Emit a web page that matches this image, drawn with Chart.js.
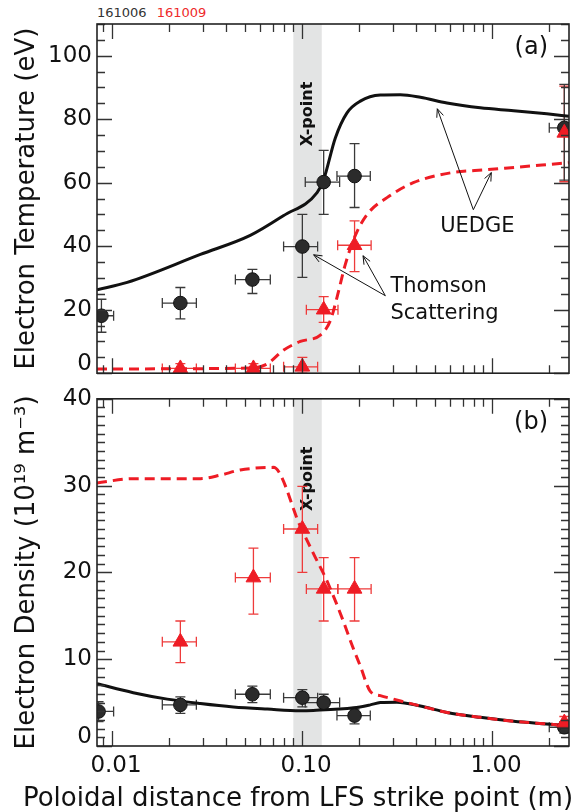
<!DOCTYPE html>
<html>
<head>
<meta charset="utf-8">
<script src="https://cdn.jsdelivr.net/npm/chart.js@4.4.1/dist/chart.umd.min.js"></script>
<style>
  body { margin: 0; background: #fff; }
  #wrap { position: relative; width: 586px; height: 812px; }
  .pane { position: absolute; left: 0; }
  #header { position: absolute; left: 97px; top: 5px; font: 13px "DejaVu Sans", sans-serif; white-space: pre; }
</style>
</head>
<body>
<div id="wrap">
  <div id="header"><span style="color:#333">161006</span><span style="color:#ee2a2a;margin-left:10px">161009</span></div>
  <div class="pane" style="top:0"><canvas id="chartA" width="586" height="392"></canvas></div>
  <div class="pane" style="top:380px"><canvas id="chartB" width="586" height="432"></canvas></div>
</div>
<script>
// x axis (log), shared by both panels
const xMin = 0.00834, xMax = 2.54;
const xMajor = [0.01, 0.1, 1];
const xMajorLabels = ['0.01', '0.10', '1.00'];
const xPointBand = [0.09, 0.127];

const teTicks = [0, 20, 40, 60, 80, 100];
const neTicks = [0, 10, 20, 30, 40];

// (a) UEDGE electron temperature, 161006 (solid) and 161009 (dashed)
const teUedge06X = [0.00834, 0.01203, 0.0292, 0.0534, 0.0797, 0.12, 0.13, 0.1497, 0.1725, 0.2027, 0.2583, 0.329, 0.4196, 0.579, 0.867, 1.299, 1.94, 2.54];
const teUedge06Y = [26.3, 28.6, 37.4, 43.4, 49.6, 56.9, 61.0, 74.1, 82.0, 85.7, 87.6, 87.7, 86.9, 85.1, 83.6, 82.7, 81.7, 80.9];
const teUedge09X = [0.00834, 0.0534, 0.0655, 0.0797, 0.098, 0.1248, 0.141, 0.1528, 0.169, 0.1908, 0.2199, 0.28, 0.385, 0.603, 0.941, 2.54];
const teUedge09Y = [1.35, 1.6, 2.9, 7.2, 10.0, 12.0, 16.6, 23.9, 34.3, 43.4, 50.0, 55.3, 60.0, 63.1, 64.1, 66.3];

// (a) Thomson scattering Te
const tsX06 = [0.0088, 0.0229, 0.0548, 0.1004, 0.13, 0.189, 2.4];
const tsXLo06 = [0.0072, 0.0184, 0.0446, 0.080, 0.104, 0.1527, 2.0];
const tsXHi06 = [0.0102, 0.0278, 0.0681, 0.1208, 0.1577, 0.2287, 2.9];
const tsTe06 = [18.1, 22.1, 29.5, 39.9, 60.2, 62.1, 77.3];
const tsTeLo06 = [12.9, 17.1, 25.1, 30.2, 50.0, 52.2, 60.8];
const tsTeHi06 = [23.3, 27.0, 32.7, 50.0, 70.2, 72.3, 91.0];

const tsX09 = [0.0229, 0.0555, 0.1004, 0.13, 0.189, 2.4];
const tsXLo09 = [0.0184, 0.0446, 0.080, 0.1054, 0.154, 2.4];
const tsXHi09 = [0.0278, 0.0681, 0.1208, 0.1546, 0.231, 2.4];
const tsTe09 = [1.5, 1.5, 2.0, 20.0, 40.3, 75.7];
const tsTeLo09 = [0.5, 0.5, 0.0, 16.0, 32.0, 60.3];
const tsTeHi09 = [3.0, 3.0, 5.0, 24.1, 48.0, 90.4];

// (b) UEDGE electron density
const neUedge06X = [0.00834, 0.01294, 0.01954, 0.0292, 0.0435, 0.0657, 0.098, 0.1147, 0.187, 0.2287, 0.2583, 0.316, 0.4196, 0.579, 0.867, 1.299, 2.11, 2.54];
const neUedge06Y = [7.17, 6.14, 5.4, 4.9, 4.5, 4.25, 4.06, 4.1, 4.4, 4.74, 5.0, 5.05, 4.6, 3.87, 3.3, 2.85, 2.47, 2.3];
const neUedge09X = [0.00834, 0.01294, 0.0292, 0.0371, 0.0473, 0.0706, 0.098, 0.1147, 0.136, 0.1655, 0.1834, 0.2027, 0.2287, 0.2583, 0.3034, 0.4196, 0.579, 0.867, 1.299, 2.11, 2.54];
const neUedge09Y = [30.3, 30.8, 30.8, 31.2, 31.8, 32.1, 25.3, 22.2, 18.9, 14.3, 11.6, 9.2, 6.3, 5.8, 5.4, 4.6, 3.87, 3.3, 2.85, 2.47, 2.3];

// (b) Thomson scattering ne
const tsNeX06 = [0.0085, 0.0229, 0.0548, 0.1004, 0.13, 0.189, 2.4];
const tsNe06 = [3.98, 4.74, 5.96, 5.57, 5.0, 3.5, 2.16];
const tsNeLo06 = [2.8, 3.75, 5.0, 4.5, 4.25, 2.55, 1.5];
const tsNeHi06 = [5.1, 5.65, 6.9, 6.5, 5.96, 4.25, 2.8];
const tsNe09 = [12.0, 19.4, 25.0, 18.1, 18.1, 2.7];
const tsNeLo09 = [9.6, 15.2, 20.0, 14.4, 14.4, 2.0];
const tsNeHi09 = [14.4, 22.8, 29.9, 21.7, 21.7, 3.4];

const BLACK = '#111111';
const RED = '#ee1c25';
const FONT = '"DejaVu Sans", sans-serif';
Chart.defaults.font.family = FONT;
Chart.defaults.color = '#111';

function pts(xs, ys) {
  return xs.map((x, i) => ({ x: x, y: ys[i] }));
}

// Draws error bars, the X-point band, inward ticks, frame and annotations
const framePlugin = {
  id: 'frame',
  beforeDatasetsDraw(chart, args, opts) {
    const { ctx, chartArea: a, scales: { x, y } } = chart;
    const x0 = x.getPixelForValue(xPointBand[0]);
    const x1 = x.getPixelForValue(xPointBand[1]);
    ctx.save();
    ctx.fillStyle = '#e3e4e4';
    ctx.fillRect(x0, a.top, x1 - x0, a.bottom - a.top);
    ctx.translate((x0 + x1) / 2, a.top + opts.xpointY);
    ctx.rotate(-Math.PI / 2);
    ctx.font = 'bold 16px ' + FONT;
    ctx.fillStyle = '#111';
    ctx.textAlign = 'center';
    ctx.textBaseline = 'middle';
    ctx.fillText('X-point', 0, 0);
    ctx.restore();

    // error bars
    ctx.save();
    ctx.beginPath();
    ctx.rect(a.left, a.top, a.right - a.left, a.bottom - a.top);
    ctx.clip();
    chart.data.datasets.forEach(ds => {
      if (!ds.yLo) return;
      ctx.strokeStyle = ds.barColor;
      ctx.lineWidth = 1.3;
      ds.data.forEach((p, i) => {
        const px = x.getPixelForValue(p.x), py = y.getPixelForValue(p.y);
        const yl = y.getPixelForValue(ds.yLo[i]), yh = y.getPixelForValue(ds.yHi[i]);
        const xl = x.getPixelForValue(ds.xLo[i]), xh = x.getPixelForValue(ds.xHi[i]);
        ctx.beginPath();
        ctx.moveTo(px, yl); ctx.lineTo(px, yh);
        ctx.moveTo(px - 5, yl); ctx.lineTo(px + 5, yl);
        ctx.moveTo(px - 5, yh); ctx.lineTo(px + 5, yh);
        if (xh - xl > 1) {
          ctx.moveTo(xl, py); ctx.lineTo(xh, py);
          ctx.moveTo(xl, py - 5); ctx.lineTo(xl, py + 5);
          ctx.moveTo(xh, py - 5); ctx.lineTo(xh, py + 5);
        }
        ctx.stroke();
      });
    });
    ctx.restore();
  },
  afterDatasetsDraw(chart, args, opts) {
    const { ctx, chartArea: a, scales: { x, y } } = chart;
    ctx.save();
    ctx.strokeStyle = '#333';
    ctx.lineWidth = 1.3;
    ctx.beginPath();
    // x ticks, top and bottom
    for (let e = -3; e <= 0; e++) {
      for (let k = 1; k <= 9; k++) {
        const v = k * Math.pow(10, e);
        if (v < xMin || v > xMax) continue;
        const px = Math.round(x.getPixelForValue(v)) + 0.5;
        const len = k === 1 ? 15 : 8;
        ctx.moveTo(px, a.bottom); ctx.lineTo(px, a.bottom - len);
        ctx.moveTo(px, a.top); ctx.lineTo(px, a.top + len);
      }
    }
    // y ticks, left and right
    for (let v = y.min; v <= y.max + 1e-6; v += opts.yMinor) {
      const py = Math.round(y.getPixelForValue(v)) + 0.5;
      const len = Math.abs(v % opts.yMajor) < 1e-6 ? 15 : 8;
      ctx.moveTo(a.left, py); ctx.lineTo(a.left + len, py);
      ctx.moveTo(a.right, py); ctx.lineTo(a.right - len, py);
    }
    ctx.stroke();
    ctx.strokeStyle = '#222';
    ctx.lineWidth = 1.6;
    ctx.strokeRect(a.left, a.top, a.right - a.left, a.bottom - a.top);

    // y tick labels (the bottom one sits a little above its tick, as in the original)
    ctx.fillStyle = '#111';
    ctx.font = '23px ' + FONT;
    ctx.textAlign = 'right';
    ctx.textBaseline = 'middle';
    opts.yLabels.forEach(v => {
      const shift = v === y.min ? -9 : 0;
      ctx.fillText(String(v), a.left - 5, y.getPixelForValue(v) + shift);
    });

    // panel letter
    ctx.font = '24px ' + FONT;
    ctx.fillText(opts.letter, a.right - 21, a.top + 24);

    // annotations
    ctx.font = '21px ' + FONT;
    (opts.texts || []).forEach(t => {
      ctx.textAlign = t.align;
      ctx.fillText(t.text, x.getPixelForValue(t.x), y.getPixelForValue(t.y));
    });
    ctx.strokeStyle = '#111';
    ctx.lineWidth = 1;
    (opts.arrows || []).forEach(ar => {
      const sx = x.getPixelForValue(ar[0]), sy = y.getPixelForValue(ar[1]);
      const ex = x.getPixelForValue(ar[2]), ey = y.getPixelForValue(ar[3]);
      const ang = Math.atan2(ey - sy, ex - sx);
      ctx.beginPath();
      ctx.moveTo(sx, sy); ctx.lineTo(ex, ey);
      ctx.moveTo(ex - 9 * Math.cos(ang - 0.4), ey - 9 * Math.sin(ang - 0.4));
      ctx.lineTo(ex, ey);
      ctx.lineTo(ex - 9 * Math.cos(ang + 0.4), ey - 9 * Math.sin(ang + 0.4));
      ctx.stroke();
    });

    // x tick labels and x axis title (title centred on the figure, wider than the plot)
    if (opts.xTitle) {
      ctx.font = '23px ' + FONT;
      ctx.textAlign = 'center';
      ctx.textBaseline = 'middle';
      xMajor.forEach((v, i) => {
        ctx.fillText(xMajorLabels[i], x.getPixelForValue(v) + 4, a.bottom + 20);
      });
      ctx.font = '26px ' + FONT;
      ctx.textBaseline = 'alphabetic';
      ctx.fillText(opts.xTitle, 298, chart.height - 6);
    }
    ctx.restore();
  }
};

function markerSet(xs, ys, xLo, xHi, yLo, yHi, isRed) {
  return {
    data: pts(xs, ys),
    xLo: xLo, xHi: xHi, yLo: yLo, yHi: yHi,
    barColor: isRed ? '#ee3b3b' : '#3a3a3a',
    pointStyle: isRed ? 'triangle' : 'circle',
    pointRadius: isRed ? 8.5 : 6.8,
    pointBackgroundColor: isRed ? RED : '#2b2b2b',
    pointBorderColor: isRed ? RED : '#111',
    pointBorderWidth: 1,
    showLine: false,
    clip: 0
  };
}

function lineSet(xs, ys, color, dashed) {
  return {
    data: pts(xs, ys),
    showLine: true,
    borderColor: color,
    borderWidth: 3,
    borderDash: dashed ? [10, 6] : [],
    pointRadius: 0,
    cubicInterpolationMode: 'monotone',
    clip: 0
  };
}

function makeChart(id, datasets, cfg) {
  return new Chart(document.getElementById(id), {
    type: 'scatter',
    data: { datasets: datasets },
    plugins: [framePlugin],
    options: {
      responsive: false,
      animation: false,
      layout: { padding: { top: cfg.padTop, right: 17, bottom: 0, left: 0 } },
      plugins: {
        legend: { display: false },
        tooltip: { enabled: false },
        frame: Object.assign({ yLabels: cfg.yTicks }, cfg.frame)
      },
      scales: {
        x: {
          type: 'logarithmic',
          min: xMin,
          max: xMax,
          grid: { display: false },
          border: { display: false },
          afterBuildTicks: s => { s.ticks = xMajor.map(v => ({ value: v })); },
          afterFit: s => { s.height = cfg.xHeight; },
          ticks: { display: false }
        },
        y: {
          min: cfg.yMin,
          max: cfg.yMax,
          grid: { display: false },
          border: { display: false },
          afterBuildTicks: s => { s.ticks = cfg.yTicks.map(v => ({ value: v })); },
          afterFit: s => { s.width = 97; },
          ticks: { padding: 5, font: { size: 23 }, color: 'rgba(0,0,0,0)' },
          title: {
            display: true,
            text: cfg.yTitle,
            font: { size: 26 },
            color: '#111',
            padding: { top: 12, bottom: 0 }
          }
        }
      }
    }
  });
}

makeChart('chartA', [
  markerSet(tsX09, tsTe09, tsXLo09, tsXHi09, tsTeLo09, tsTeHi09, true),
  markerSet(tsX06, tsTe06, tsXLo06, tsXHi06, tsTeLo06, tsTeHi06, false),
  lineSet(teUedge09X, teUedge09Y, RED, true),
  lineSet(teUedge06X, teUedge06Y, BLACK, false)
], {
  padTop: 24, xHeight: 16,
  yMin: 0, yMax: 110, yTicks: teTicks,
  yTitle: 'Electron Temperature (eV)',
  frame: {
    yMinor: 5, yMajor: 20, letter: '(a)', xpointY: 90,
    texts: [
      { text: 'UEDGE', x: 0.837, y: 46.2, align: 'center' },
      { text: 'Thomson', x: 0.2917, y: 27.2, align: 'left' },
      { text: 'Scattering', x: 0.2917, y: 18.9, align: 'left' }
    ],
    arrows: [
      [0.797, 51.5, 0.515, 83.3],
      [0.797, 51.5, 0.991, 63.2],
      [0.2745, 24.4, 0.1151, 37.3],
      [0.2745, 24.4, 0.2094, 37.0]
    ]
  }
});

makeChart('chartB', [
  markerSet(tsX09, tsNe09, tsXLo09, tsXHi09, tsNeLo09, tsNeHi09, true),
  markerSet(tsNeX06, tsNe06, tsXLo06, tsXHi06, tsNeLo06, tsNeHi06, false),
  lineSet(neUedge09X, neUedge09Y, RED, true),
  lineSet(neUedge06X, neUedge06Y, BLACK, false)
], {
  padTop: 14, xHeight: 66,
  yMin: 0, yMax: 40, yTicks: neTicks,
  yTitle: 'Electron Density (10¹⁹ m⁻³)',
  frame: {
    yMinor: 1, yMajor: 10, letter: '(b)', xpointY: 80,
    xTitle: 'Poloidal distance from LFS strike point (m)'
  }
});
</script>
</body>
</html>
